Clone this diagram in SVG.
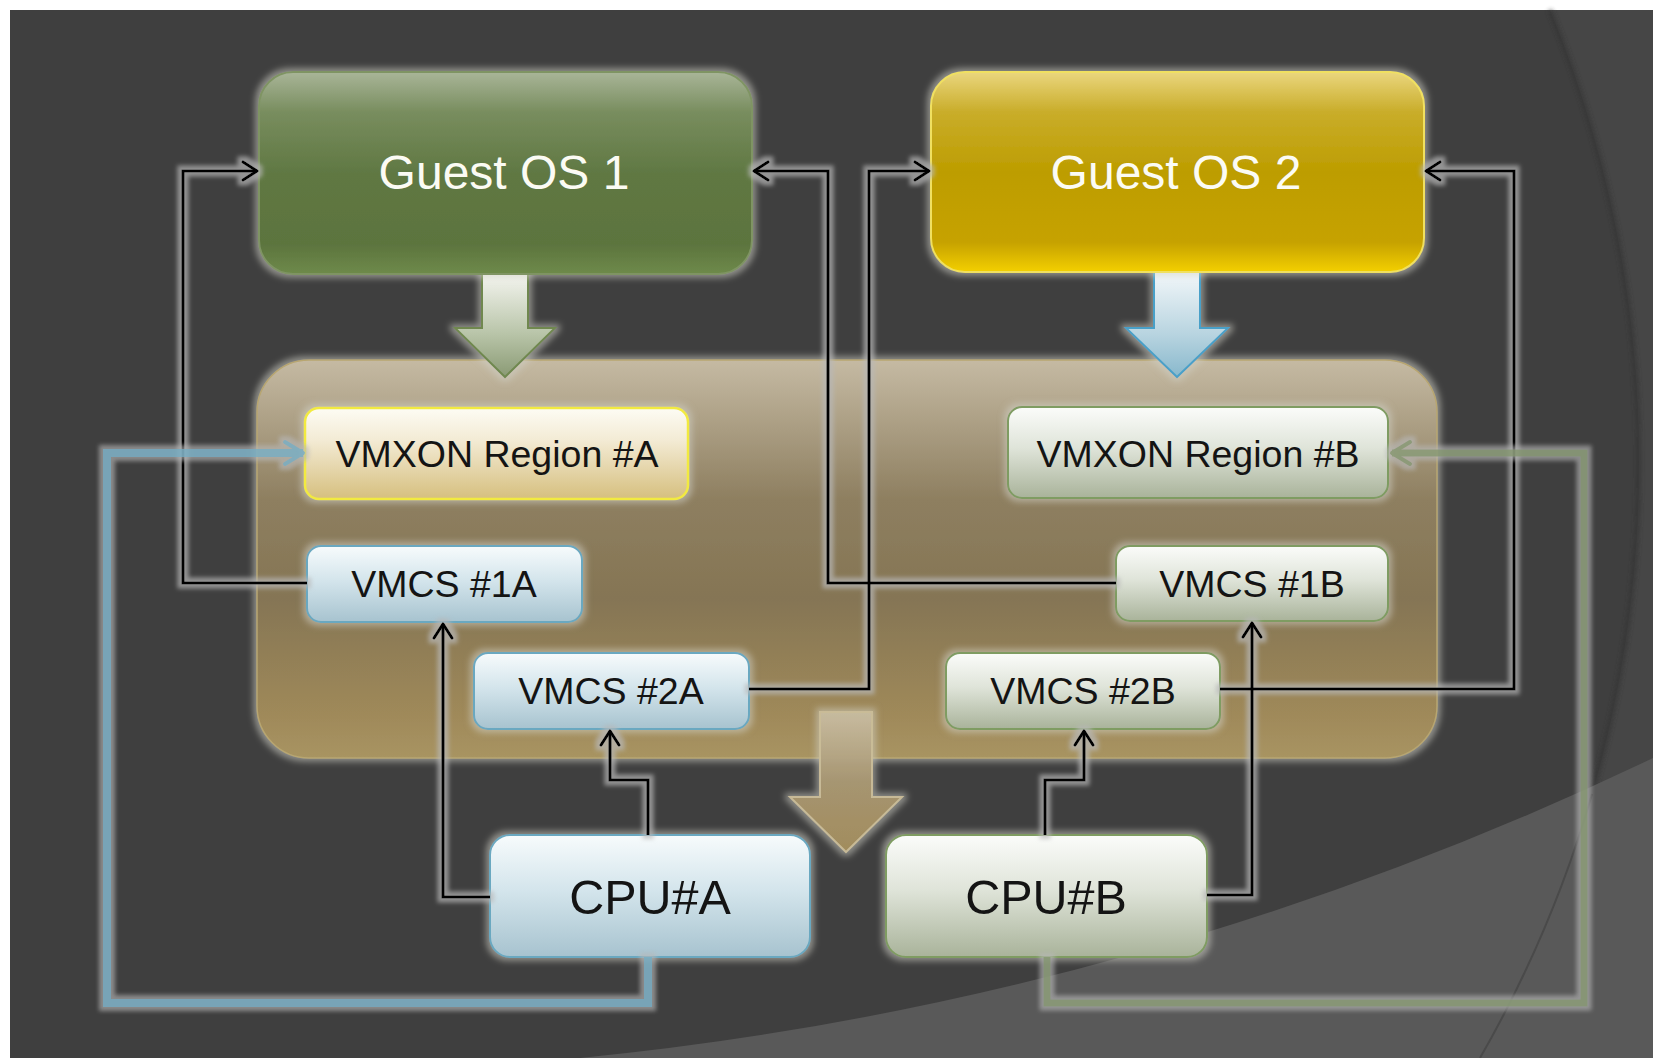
<svg xmlns="http://www.w3.org/2000/svg" width="1653" height="1058" viewBox="0 0 1653 1058">
<defs>
<style>
.t{font-family:"Liberation Sans",Arial,sans-serif;text-anchor:middle}
.os{font-size:48px;fill:#fbfbf4}
.sm{font-size:37.5px;fill:#141414}
.cpu{font-size:48.5px;fill:#141414}
.blk{fill:none;stroke:#000;stroke-width:3.2;stroke-linejoin:miter}
.bl{stroke:#6aa8c0;stroke-width:2}
.gr{stroke:#7f9c62;stroke-width:2}
</style>
<linearGradient id="gOS1" x1="0" y1="0" x2="0" y2="1">
<stop offset="0" stop-color="#a9b598"/><stop offset="0.2" stop-color="#788d5e"/><stop offset="0.5" stop-color="#607843"/><stop offset="0.85" stop-color="#5c743e"/><stop offset="1" stop-color="#6e8a4a"/>
</linearGradient>
<linearGradient id="gOS2" x1="0" y1="0" x2="0" y2="1">
<stop offset="0" stop-color="#ead67e"/><stop offset="0.2" stop-color="#c9ad2a"/><stop offset="0.5" stop-color="#bd9d00"/><stop offset="0.85" stop-color="#c6a200"/><stop offset="1" stop-color="#f3cf00"/>
</linearGradient>
<linearGradient id="gCream" x1="0" y1="0" x2="0" y2="1">
<stop offset="0" stop-color="#fdfcf4"/><stop offset="0.35" stop-color="#f3ebd5"/><stop offset="1" stop-color="#d6bf7e"/>
</linearGradient>
<linearGradient id="gBlue" x1="0" y1="0" x2="0" y2="1">
<stop offset="0" stop-color="#f7fbfc"/><stop offset="0.45" stop-color="#d4e5ec"/><stop offset="1" stop-color="#a7c3cf"/>
</linearGradient>
<linearGradient id="gGreen" x1="0" y1="0" x2="0" y2="1">
<stop offset="0" stop-color="#fbfcfa"/><stop offset="0.45" stop-color="#dfe4d9"/><stop offset="1" stop-color="#a9b39a"/>
</linearGradient>
<linearGradient id="gTan" x1="0" y1="0" x2="0" y2="1">
<stop offset="0" stop-color="#c5baa3"/><stop offset="0.35" stop-color="#8e7f60"/><stop offset="0.6" stop-color="#857554"/><stop offset="0.9" stop-color="#a08a5a"/><stop offset="1" stop-color="#a89462"/>
</linearGradient>
<linearGradient id="gArr1" x1="0" y1="0" x2="0" y2="1">
<stop offset="0" stop-color="#f8f8f4"/><stop offset="0.6" stop-color="#b8c4a8"/><stop offset="1" stop-color="#8a9a74"/>
</linearGradient>
<linearGradient id="gArr2" x1="0" y1="0" x2="0" y2="1">
<stop offset="0" stop-color="#f4f8fa"/><stop offset="0.6" stop-color="#b8d4e0"/><stop offset="1" stop-color="#88b8cc"/>
</linearGradient>
<linearGradient id="gArr3" x1="0" y1="0" x2="0" y2="1">
<stop offset="0" stop-color="#c8bca0"/><stop offset="0.5" stop-color="#a89670"/><stop offset="1" stop-color="#a38c58"/>
</linearGradient>
<filter id="glow" filterUnits="userSpaceOnUse" x="0" y="0" width="1653" height="1058">
<feMorphology in="SourceAlpha" operator="dilate" radius="3" result="d"/>
<feGaussianBlur in="d" stdDeviation="3" result="b"/>
<feFlood flood-color="#d0d0c6" flood-opacity="0.55"/>
<feComposite in2="b" operator="in" result="g"/>
<feMerge><feMergeNode in="g"/><feMergeNode in="SourceGraphic"/></feMerge>
</filter>
<filter id="lglow" filterUnits="userSpaceOnUse" x="0" y="0" width="1653" height="1058">
<feMorphology in="SourceAlpha" operator="dilate" radius="4" result="d"/>
<feGaussianBlur in="d" stdDeviation="2" result="b"/>
<feFlood flood-color="#b8b8b8" flood-opacity="0.7"/>
<feComposite in2="b" operator="in" result="g"/>
<feMerge><feMergeNode in="g"/><feMergeNode in="SourceGraphic"/></feMerge>
</filter>
<filter id="soft" filterUnits="userSpaceOnUse" x="0" y="0" width="1653" height="1058">
<feGaussianBlur stdDeviation="2"/>
</filter>
<marker id="ab" markerUnits="userSpaceOnUse" viewBox="-18 -12 22 24" markerWidth="22" markerHeight="24" refX="0" refY="0" orient="auto">
<path d="M -14 -9 L 0 0 L -14 9" fill="none" stroke="#000" stroke-width="3.2" stroke-linejoin="round" stroke-linecap="round"/>
</marker>
<marker id="abl" markerUnits="userSpaceOnUse" viewBox="-22 -14 26 28" markerWidth="26" markerHeight="28" refX="0" refY="0" orient="auto">
<path d="M -18 -11 L 0 0 L -18 11" fill="none" stroke="#7fb0c4" stroke-width="4" stroke-linejoin="round" stroke-linecap="round"/>
</marker>
<marker id="agr" markerUnits="userSpaceOnUse" viewBox="-22 -14 26 28" markerWidth="26" markerHeight="28" refX="0" refY="0" orient="auto">
<path d="M -18 -11 L 0 0 L -18 11" fill="none" stroke="#8c9c7a" stroke-width="4" stroke-linejoin="round" stroke-linecap="round"/>
</marker>
</defs>

<!-- background -->
<rect x="0" y="0" width="1653" height="1058" fill="#ffffff"/>
<rect x="10" y="10" width="1643" height="1048" fill="#3f3f3f"/>
<path d="M 1550 10 A 1195 1195 0 0 1 1480 1058 L 1653 1058 L 1653 10 Z" fill="#464646"/>
<path d="M 1550 10 A 1195 1195 0 0 1 1480 1058" fill="none" stroke="#333333" stroke-width="4" opacity="0.7" filter="url(#soft)"/>
<path d="M 1653 758 A 3204 3204 0 0 1 580 1058 L 1653 1058 Z" fill="#595959"/>
<path d="M 1592 794 A 1195 1195 0 0 1 1480 1058" fill="none" stroke="#4a4a4a" stroke-width="2"/>

<!-- container -->
<g id="hypervisor">
<rect x="257" y="360" width="1180" height="398" rx="52" ry="52" fill="url(#gTan)" stroke="#b8a670" stroke-width="1.5" filter="url(#glow)"/>
</g>

<!-- big arrows -->
<g id="arrow-os1" filter="url(#glow)">
<polygon points="482,270 528,270 528,328 555,328 505,377 455,328 482,328" fill="url(#gArr1)" stroke="#70884f" stroke-width="2"/>
</g>
<g id="arrow-os2" filter="url(#glow)">
<polygon points="1154,270 1200,270 1200,328 1228,328 1177,377 1126,328 1154,328" fill="url(#gArr2)" stroke="#4aa0c8" stroke-width="2"/>
</g>
<g id="arrow-down" filter="url(#glow)">
<polygon points="820,712 872,712 872,797 902,797 846,852 790,797 820,797" fill="url(#gArr3)" stroke="#cbbd98" stroke-width="2" opacity="0.95"/>
</g>

<!-- nodes -->
<g id="guest-os-1">
<rect x="259" y="72" width="493" height="202" rx="34" fill="url(#gOS1)" stroke="#7f9464" stroke-width="2" filter="url(#glow)"/>
<text class="t os" x="504" y="189">Guest OS 1</text>
</g>
<g id="guest-os-2">
<rect x="931" y="72" width="493" height="200" rx="34" fill="url(#gOS2)" stroke="#f0e060" stroke-width="2" filter="url(#glow)"/>
<text class="t os" x="1176" y="189">Guest OS 2</text>
</g>
<g id="vmxon-a">
<rect x="305" y="408" width="383" height="91" rx="14" fill="url(#gCream)" stroke="#f2ea40" stroke-width="2.5" filter="url(#glow)"/>
<text class="t sm" x="497" y="467">VMXON Region #A</text>
</g>
<g id="vmxon-b">
<rect x="1008" y="407" width="380" height="91" rx="14" fill="url(#gGreen)" class="gr" filter="url(#glow)"/>
<text class="t sm" x="1198" y="467">VMXON Region #B</text>
</g>
<g id="vmcs-1a">
<rect x="307" y="546" width="275" height="76" rx="14" fill="url(#gBlue)" class="bl" filter="url(#glow)"/>
<text class="t sm" x="444" y="597">VMCS #1A</text>
</g>
<g id="vmcs-1b">
<rect x="1116" y="546" width="272" height="75" rx="14" fill="url(#gGreen)" class="gr" filter="url(#glow)"/>
<text class="t sm" x="1252" y="597">VMCS #1B</text>
</g>
<g id="vmcs-2a">
<rect x="474" y="653" width="275" height="76" rx="14" fill="url(#gBlue)" class="bl" filter="url(#glow)"/>
<text class="t sm" x="611" y="704">VMCS #2A</text>
</g>
<g id="vmcs-2b">
<rect x="946" y="653" width="274" height="76" rx="14" fill="url(#gGreen)" class="gr" filter="url(#glow)"/>
<text class="t sm" x="1083" y="704">VMCS #2B</text>
</g>
<g id="cpu-a">
<rect x="490" y="835" width="320" height="122" rx="20" fill="url(#gBlue)" class="bl" filter="url(#glow)"/>
<text class="t cpu" x="650" y="914">CPU#A</text>
</g>
<g id="cpu-b">
<rect x="886" y="835" width="321" height="122" rx="20" fill="url(#gGreen)" class="gr" filter="url(#glow)"/>
<text class="t cpu" x="1046" y="914">CPU#B</text>
</g>

<!-- connectors -->
<g id="connectors">
<g filter="url(#lglow)">
<path class="blk" d="M 307 583 H 183 V 171 H 257" marker-end="url(#ab)"/>
<path class="blk" d="M 1116 583 H 828 V 171 H 754" marker-end="url(#ab)"/>
<path class="blk" d="M 749 689 H 869 V 171 H 929" marker-end="url(#ab)"/>
<path class="blk" d="M 1220 689 H 1514 V 171 H 1426" marker-end="url(#ab)"/>
<path class="blk" d="M 490 897 H 443 V 624" marker-end="url(#ab)"/>
<path class="blk" d="M 648 835 V 780 H 610 V 731" marker-end="url(#ab)"/>
<path class="blk" d="M 1045 835 V 780 H 1084 V 731" marker-end="url(#ab)"/>
<path class="blk" d="M 1207 895 H 1252 V 623" marker-end="url(#ab)"/>
</g>
<g filter="url(#lglow)" opacity="0.9">
<path d="M 648 957 V 1003 H 107 V 453 H 303" fill="none" stroke="#7fb0c4" stroke-width="8" marker-end="url(#abl)"/>
<path d="M 1047 957 V 1003 H 1584 V 453 H 1392" fill="none" stroke="#8c9c7a" stroke-width="7" marker-end="url(#agr)"/>
</g>
</g>
</svg>
